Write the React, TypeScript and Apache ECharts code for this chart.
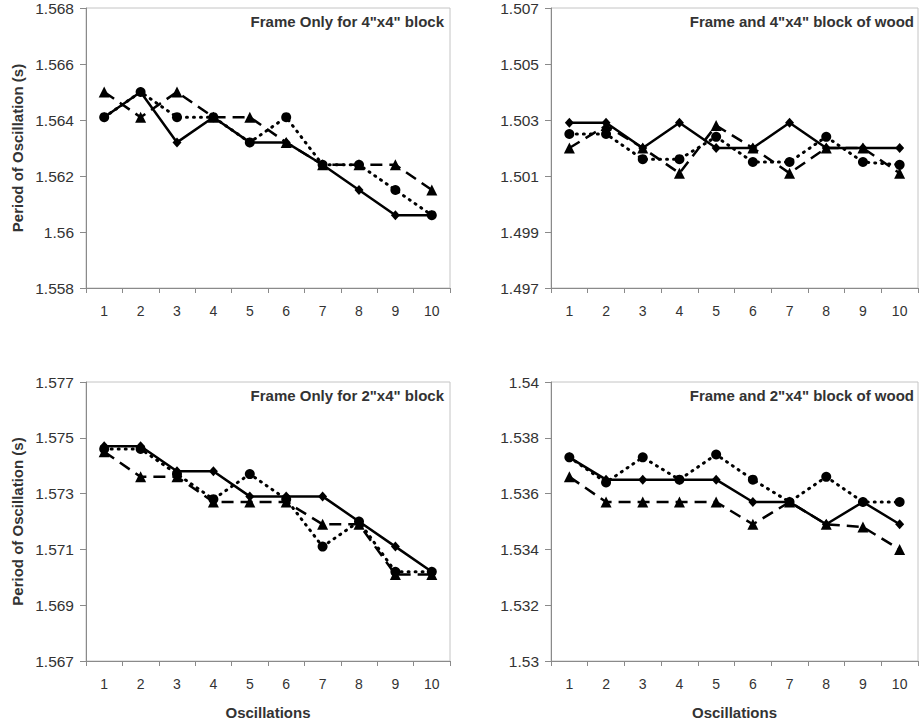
import React, { useEffect, useRef } from "react";
import * as echarts from "echarts";

const oscillations = ["1", "2", "3", "4", "5", "6", "7", "8", "9", "10"];

const panelTitles = [
  'Frame Only for 4"x4" block',
  'Frame and 4"x4" block of wood',
  'Frame Only for 2"x4" block',
  'Frame and 2"x4" block of wood',
];

// y-axis tick labels per panel
const ticks1 = [1.558, 1.56, 1.562, 1.564, 1.566, 1.568];
const ticks2 = [1.497, 1.499, 1.501, 1.503, 1.505, 1.507];
const ticks3 = [1.567, 1.569, 1.571, 1.573, 1.575, 1.577];
const ticks4 = [1.53, 1.532, 1.534, 1.536, 1.538, 1.54];

// Panel 1: Frame Only for 4"x4" block
const p1Solid = [1.5641, 1.565, 1.5632, 1.5641, 1.5632, 1.5632, 1.5624, 1.5615, 1.5606, 1.5606];
const p1Dashed = [1.565, 1.5641, 1.565, 1.5641, 1.5641, 1.5632, 1.5624, 1.5624, 1.5624, 1.5615];
const p1Dotted = [1.5641, 1.565, 1.5641, 1.5641, 1.5632, 1.5641, 1.5624, 1.5624, 1.5615, 1.5606];

// Panel 2: Frame and 4"x4" block of wood
const p2Solid = [1.5029, 1.5029, 1.502, 1.5029, 1.502, 1.502, 1.5029, 1.502, 1.502, 1.502];
const p2Dashed = [1.502, 1.5028, 1.502, 1.5011, 1.5028, 1.502, 1.5011, 1.502, 1.502, 1.5011];
const p2Dotted = [1.5025, 1.5025, 1.5016, 1.5016, 1.5024, 1.5015, 1.5015, 1.5024, 1.5015, 1.5014];

// Panel 3: Frame Only for 2"x4" block
const p3Solid = [1.5747, 1.5747, 1.5738, 1.5738, 1.5729, 1.5729, 1.5729, 1.572, 1.5711, 1.5702];
const p3Dashed = [1.5745, 1.5736, 1.5736, 1.5727, 1.5727, 1.5727, 1.5719, 1.5719, 1.5701, 1.5701];
const p3Dotted = [1.5746, 1.5746, 1.5737, 1.5728, 1.5737, 1.5728, 1.5711, 1.572, 1.5702, 1.5702];

// Panel 4: Frame and 2"x4" block of wood
const p4Solid = [1.5373, 1.5365, 1.5365, 1.5365, 1.5365, 1.5357, 1.5357, 1.5349, 1.5357, 1.5349];
const p4Dashed = [1.5366, 1.5357, 1.5357, 1.5357, 1.5357, 1.5349, 1.5357, 1.5349, 1.5348, 1.534];
const p4Dotted = [1.5373, 1.5364, 1.5373, 1.5365, 1.5374, 1.5365, 1.5357, 1.5366, 1.5357, 1.5357];

const panelTicks = [ticks1, ticks2, ticks3, ticks4];
const panelData = [
  [p1Solid, p1Dashed, p1Dotted],
  [p2Solid, p2Dashed, p2Dotted],
  [p3Solid, p3Dashed, p3Dotted],
  [p4Solid, p4Dashed, p4Dotted],
];
const seriesNames = ["Trial 1", "Trial 2", "Trial 3"];

const FONT = "'Liberation Sans', Arial, sans-serif";
const TEXT = "#333333";
const AXIS = "#8a8a8a";

export default function App() {
  const ref = useRef<HTMLDivElement>(null);

  useEffect(() => {
    if (!ref.current) return;
    const chart = echarts.init(ref.current, undefined, { renderer: "svg" });

    const grids = [
      { left: 86, top: 8, width: 364, height: 280 },
      { left: 551, top: 8, width: 367, height: 280 },
      { left: 86, top: 382, width: 364, height: 279 },
      { left: 551, top: 382, width: 367, height: 279 },
    ].map((g) => ({
      ...g,
      show: true,
      borderColor: "#c4c4c4",
      borderWidth: 1,
      backgroundColor: "transparent",
    }));

    const titleRight = [924 - 444, 924 - 914, 924 - 444, 924 - 914];
    const titleTop = [14, 14, 388, 388];

    const xAxes = [0, 1, 2, 3].map((i) => ({
      type: "category",
      gridIndex: i,
      data: oscillations,
      boundaryGap: true,
      axisLine: { lineStyle: { color: AXIS, width: 1 } },
      axisTick: { show: true, length: 5, lineStyle: { color: AXIS } },
      axisLabel: {
        margin: 16,
        color: TEXT,
        fontSize: 14,
        fontFamily: "'Liberation Sans Narrow', " + FONT,
      },
      name: i >= 2 ? "Oscillations" : "",
      nameLocation: "middle",
      nameGap: 44,
      nameTextStyle: { color: TEXT, fontSize: 15, fontWeight: "bold", fontFamily: FONT },
    }));

    const yAxes = [0, 1, 2, 3].map((i) => {
      const t = panelTicks[i];
      return {
        type: "value",
        gridIndex: i,
        min: t[0],
        max: t[t.length - 1],
        splitLine: { show: false },
        axisLine: { show: true, lineStyle: { color: AXIS, width: 1 } },
        axisTick: { show: true, length: 6, customValues: t, lineStyle: { color: AXIS } },
        axisLabel: {
          customValues: t,
          margin: 12,
          color: TEXT,
          fontSize: 15.5,
          fontFamily: FONT,
          formatter: (v: number) => String(parseFloat(Number(v).toFixed(3))),
        },
        name: i % 2 === 0 ? "Period of Oscillation (s)" : "",
        nameLocation: "middle",
        nameRotate: 90,
        nameGap: 61,
        nameTextStyle: { color: TEXT, fontSize: 15, fontWeight: "bold", fontFamily: FONT },
      };
    });

    const series: any[] = [];
    panelData.forEach((sets, i) => {
      const [solid, dashed, dotted] = sets;
      series.push({
        name: seriesNames[2],
        type: "line",
        xAxisIndex: i,
        yAxisIndex: i,
        data: dotted,
        symbol: "circle",
        symbolSize: 10,
        itemStyle: { color: "#000" },
        lineStyle: { color: "#000", width: 3, type: [1, 6], cap: "round" },
        z: 2,
      });
      series.push({
        name: seriesNames[1],
        type: "line",
        xAxisIndex: i,
        yAxisIndex: i,
        data: dashed,
        symbol: "triangle",
        symbolSize: 11,
        itemStyle: { color: "#000" },
        lineStyle: { color: "#000", width: 2.5, type: [12, 7] },
        z: 3,
      });
      series.push({
        name: seriesNames[0],
        type: "line",
        xAxisIndex: i,
        yAxisIndex: i,
        data: solid,
        symbol: "diamond",
        symbolSize: [9, 10],
        itemStyle: { color: "#000" },
        lineStyle: { color: "#000", width: 2.5, type: "solid" },
        z: 4,
      });
    });

    chart.setOption({
      animation: false,
      backgroundColor: "#ffffff",
      title: panelTitles.map((text, i) => ({
        text,
        right: titleRight[i],
        top: titleTop[i],
        padding: 0,
        textStyle: { color: TEXT, fontSize: 15, fontWeight: "bold", fontFamily: FONT },
      })),
      grid: grids,
      xAxis: xAxes,
      yAxis: yAxes,
      series,
    });

    return () => chart.dispose();
  }, []);

  return (
    <div
      ref={ref}
      style={{ position: "absolute", left: 0, top: 0, width: 924, height: 724 }}
    />
  );
}
